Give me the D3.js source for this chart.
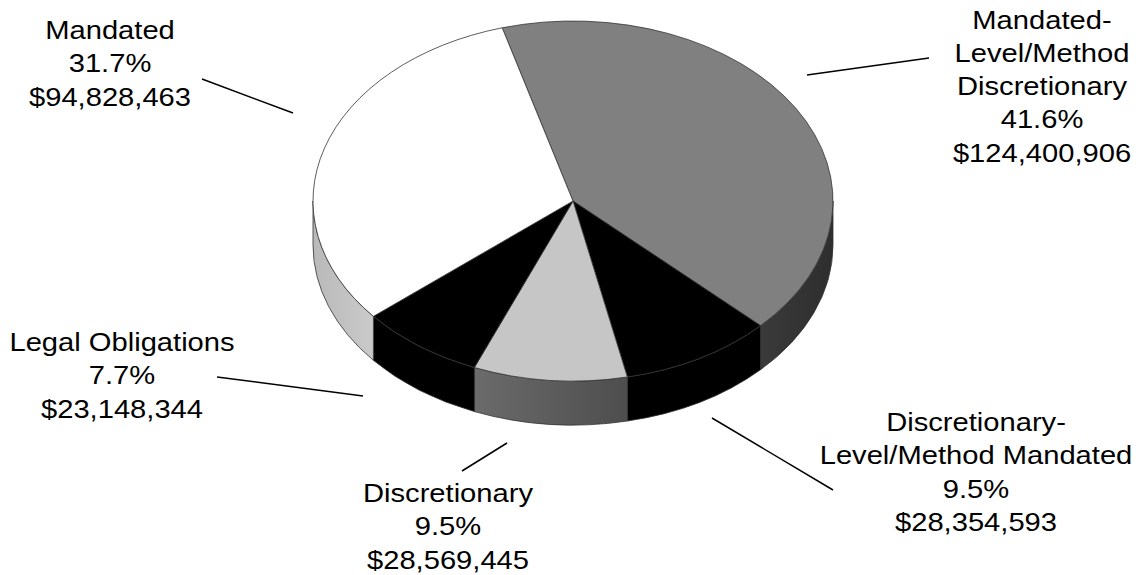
<!DOCTYPE html>
<html>
<head>
<meta charset="utf-8">
<script src="https://cdn.jsdelivr.net/npm/d3@7"></script>
<style>
  html, body { margin: 0; padding: 0; background: #fff; }
  svg { display: block; }
  text { font-family: "Liberation Sans", Arial, sans-serif; fill: #000; }
</style>
</head>
<body>
<svg id="chart" width="1140" height="575"></svg>
<script>
// Budget categories, clockwise from the first slice
const categories = [
  "Mandated-Level/Method Discretionary",
  "Discretionary-Level/Method Mandated",
  "Discretionary",
  "Legal Obligations",
  "Mandated"
];
const amounts = [124400906, 28354593, 28569445, 23148344, 94828463];
// How each category name wraps in its label
const nameLines = [
  ["Mandated-", "Level/Method", "Discretionary"],
  ["Discretionary-", "Level/Method Mandated"],
  ["Discretionary"],
  ["Legal Obligations"],
  ["Mandated"]
];

// Slice fills: top face, and side wall (solid or gradient id)
const topFill = ["#808080", "#000000", "#c6c6c6", "#000000", "#ffffff"];
const sideFill = ["url(#gSide0)", "#000000", "url(#gSide2)", "#000000", "url(#gSide4)"];

// Label placement: text centre x, first baseline y, leader line ends
const labelLayout = [
  { x: 1042, y: 28.5, line: [[807, 75], [929, 58]] },
  { x: 976,  y: 431,  line: [[712, 418], [833, 490]] },
  { x: 448,  y: 502,  line: [[462, 471], [507, 443]] },
  { x: 122,  y: 351,  line: [[217, 377], [363, 396]] },
  { x: 110,  y: 39,   line: [[202, 79], [293, 113]] }
];

// Pie geometry
const cx = 573, cy = 201, rx = 260, ry = 180, depth = 44;
const firstSliceAngle = -15.8 * Math.PI / 180;
const fontSize = 26.5, lineGap = 33.3, stretchX = 1.1;

const svg = d3.select("#chart");
const defs = svg.append("defs");

function hGrad(id, stops) {
  const g = defs.append("linearGradient").attr("id", id)
    .attr("x1", "0%").attr("y1", "0%").attr("x2", "100%").attr("y2", "0%");
  stops.forEach(([o, c]) => g.append("stop").attr("offset", o).attr("stop-color", c));
}
hGrad("gSide0", [["0%", "#3a3a3a"], ["100%", "#2e2e2e"]]);
hGrad("gSide2", [["0%", "#6b6b6b"], ["100%", "#4e4e4e"]]);
hGrad("gSide4", [["0%", "#b9b9b9"], ["100%", "#cacaca"]]);

const total = d3.sum(amounts);
const pct = d3.format(".1%");
const money = d3.format("$,");

const pie = d3.pie().sort(null).value(d => d)
  .startAngle(firstSliceAngle).endAngle(firstSliceAngle + 2 * Math.PI);
const arcs = pie(amounts);

// point on the ellipse for an angle measured clockwise from 12 o'clock
const pt = (a, dy = 0) => [cx + rx * Math.sin(a), cy - ry * Math.cos(a) + dy];

function topPath(d) {
  const p0 = pt(d.startAngle), p1 = pt(d.endAngle);
  const large = d.endAngle - d.startAngle > Math.PI ? 1 : 0;
  return `M${cx},${cy}L${p0}A${rx},${ry} 0 ${large} 1 ${p1}Z`;
}

// outer wall, only on the front half of the pie (90°–270°)
function sidePath(d) {
  const lo = Math.PI / 2, hi = 3 * Math.PI / 2;
  const a0 = Math.max(d.startAngle, lo), a1 = Math.min(d.endAngle, hi);
  if (a1 <= a0) return null;
  const t0 = pt(a0), t1 = pt(a1), b0 = pt(a0, depth), b1 = pt(a1, depth);
  return `M${t0}A${rx},${ry} 0 0 1 ${t1}L${b1}A${rx},${ry} 0 0 0 ${b0}Z`;
}

const sides = svg.append("g");
arcs.forEach((d, i) => {
  const p = sidePath(d);
  if (p) sides.append("path").attr("d", p)
    .attr("fill", sideFill[i]).attr("stroke", "#333").attr("stroke-width", 0.8)
    .attr("stroke-linejoin", "round");
});

svg.append("g").selectAll("path").data(arcs).join("path")
  .attr("d", topPath)
  .attr("fill", (d, i) => topFill[i])
  .attr("stroke", "#333").attr("stroke-width", 0.8)
  .attr("stroke-linejoin", "round");

// leader lines
svg.append("g").selectAll("line").data(labelLayout).join("line")
  .attr("x1", d => d.line[0][0]).attr("y1", d => d.line[0][1])
  .attr("x2", d => d.line[1][0]).attr("y2", d => d.line[1][1])
  .attr("stroke", "#000").attr("stroke-width", 1.5);

// data labels: name, share, amount
arcs.forEach((d, i) => {
  const lines = [...nameLines[i], pct(d.value / total), money(d.value)];
  const L = labelLayout[i];
  const g = svg.append("g")
    .attr("transform", `translate(${L.x},${L.y}) scale(${stretchX},1)`);
  g.selectAll("text").data(lines).join("text")
    .attr("x", 0).attr("y", (t, k) => k * lineGap)
    .attr("text-anchor", "middle")
    .attr("font-size", fontSize)
    .text(t => t);
});
</script>
</body>
</html>
